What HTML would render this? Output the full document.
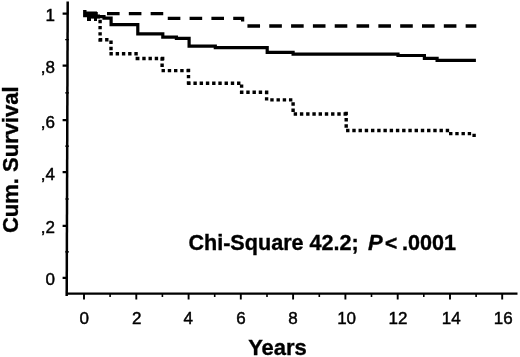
<!DOCTYPE html>
<html><head><meta charset="utf-8">
<style>
html,body{margin:0;padding:0;background:#fff;width:520px;height:357px;overflow:hidden}
svg{display:block;will-change:transform}
text{font-family:"Liberation Sans",sans-serif;fill:#000}
</style></head>
<body>
<svg width="520" height="357" viewBox="0 0 520 357">
<g stroke="#000" fill="none">
<path d="M67.7 1.5L66.7 296" stroke-width="2.5"/>
<path d="M66 293.6H517.5" stroke-width="2.4"/>
<path d="M62.6 13.7H67.5M62.6 65.7H67.5M62.6 120.1H67.5M62.6 172.1H67.5M62.6 225.9H67.5M62.6 277.8H67.5" stroke-width="2.3"/>
<path d="M65.2 39.7H69M65.2 92.9H69M65.2 146.1H69M65.2 199.0H69M65.2 251.9H69" stroke-width="1.2"/>
<path d="M84.0 293.6V299.6M136.3 293.6V299.6M188.6 293.6V299.6M240.8 293.6V299.6M293.1 293.6V299.6M345.4 293.6V299.6M397.7 293.6V299.6M450.0 293.6V299.6M502.2 293.6V299.6" stroke-width="1.9"/>
<path d="M110.1 293.6V297M162.4 293.6V297M214.7 293.6V297M267.0 293.6V297M319.3 293.6V297M371.5 293.6V297M423.8 293.6V297M476.1 293.6V297" stroke-width="1.6"/>
</g>
<g font-size="17" text-anchor="end" stroke="#000" stroke-width="0.45">
<text x="55" y="21.1">1</text>
<text x="55" y="73.1">,8</text>
<text x="55" y="127.5">,6</text>
<text x="55" y="179.5">,4</text>
<text x="55" y="233.3">,2</text>
<text x="55" y="285.2">0</text>
</g>
<g font-size="17" text-anchor="middle" stroke="#000" stroke-width="0.45">
<text x="84.3" y="324.3">0</text>
<text x="136.7" y="324.3">2</text>
<text x="188.2" y="324.3">4</text>
<text x="241.1" y="324.3">6</text>
<text x="292.9" y="324.3">8</text>
<text x="346.6" y="324.3">10</text>
<text x="397.9" y="324.3">12</text>
<text x="451.2" y="324.3">14</text>
<text x="503.2" y="324.3">16</text>
</g>
<text font-size="22" font-weight="bold" stroke="#000" stroke-width="0.35" x="277.5" y="355.4" text-anchor="middle">Years</text>
<text font-size="22" font-weight="bold" stroke="#000" stroke-width="0.35" transform="translate(18.2 159.7) rotate(-90)" text-anchor="middle">Cum. Survival</text>
<g font-size="21.6" font-weight="bold" stroke="#000" stroke-width="0.35">
<text x="188.4" y="249.6">Chi-Square 42.2;</text>
<text x="367.9" y="249.6" font-size="22" font-style="italic">P</text>
<text x="384.9" y="249.6" font-size="20.8" stroke-width="0.5">&lt;</text>
<text x="402" y="249.6">.0001</text>
</g>
<g fill="none" stroke="#000">
<path d="M83.1 9.9 H86.5 V11.6 H97 V14.4 H100 V18.6 H97 V20.9 H94 V18.6 H91 V20.9 H87 V17.2 H83.1Z" fill="#000" stroke="none"/>
<path d="M84 13.7 H164 V18.4 H242.6 V26 H476.3" stroke-width="3.3" stroke-dasharray="12.6 9.22" stroke-dashoffset="-1.18"/>
<path d="M84 13.5 H88 V15.5 H93 V16.6 H104 V18.1 H111.1 V24.6 H137.8 V33.8 H162.8 V37.1 H176.4 V38.3 H189.1 V46.1 H215.3 V47.6 H267.2 V52.4 H293.1 V54.2 H398 V55.5 H424.4 V58.4 H437.1 V60.3 H475.9" stroke-width="3.2"/>
<path d="M98.40 19.74h3.4v3.4h-3.4zM98.40 25.97h3.4v3.4h-3.4zM98.40 32.20h3.4v3.4h-3.4zM98.40 38.43h3.4v3.4h-3.4zM98.87 38.10h3.4v3.4h-3.4zM105.10 38.10h3.4v3.4h-3.4zM109.30 40.57h3.4v3.4h-3.4zM109.30 46.80h3.4v3.4h-3.4zM109.44 52.10h3.4v3.4h-3.4zM115.67 52.10h3.4v3.4h-3.4zM121.90 52.10h3.4v3.4h-3.4zM128.13 52.10h3.4v3.4h-3.4zM134.36 52.10h3.4v3.4h-3.4zM135.60 56.80h3.4v3.4h-3.4zM136.04 56.80h3.4v3.4h-3.4zM142.27 56.80h3.4v3.4h-3.4zM148.50 56.80h3.4v3.4h-3.4zM154.73 56.80h3.4v3.4h-3.4zM160.96 56.80h3.4v3.4h-3.4zM160.40 57.37h3.4v3.4h-3.4zM160.40 63.60h3.4v3.4h-3.4zM161.54 68.90h3.4v3.4h-3.4zM167.77 68.90h3.4v3.4h-3.4zM174.00 68.90h3.4v3.4h-3.4zM180.23 68.90h3.4v3.4h-3.4zM186.46 68.90h3.4v3.4h-3.4zM186.80 68.67h3.4v3.4h-3.4zM186.80 74.90h3.4v3.4h-3.4zM186.80 81.13h3.4v3.4h-3.4zM187.18 81.50h3.4v3.4h-3.4zM193.41 81.50h3.4v3.4h-3.4zM199.64 81.50h3.4v3.4h-3.4zM205.87 81.50h3.4v3.4h-3.4zM212.10 81.50h3.4v3.4h-3.4zM218.33 81.50h3.4v3.4h-3.4zM224.56 81.50h3.4v3.4h-3.4zM230.79 81.50h3.4v3.4h-3.4zM237.02 81.50h3.4v3.4h-3.4zM239.90 84.40h3.4v3.4h-3.4zM239.90 90.63h3.4v3.4h-3.4zM240.04 90.60h3.4v3.4h-3.4zM246.27 90.60h3.4v3.4h-3.4zM252.50 90.60h3.4v3.4h-3.4zM258.73 90.60h3.4v3.4h-3.4zM264.96 90.60h3.4v3.4h-3.4zM264.90 90.97h3.4v3.4h-3.4zM264.90 97.20h3.4v3.4h-3.4zM270.27 98.20h3.4v3.4h-3.4zM276.50 98.20h3.4v3.4h-3.4zM282.73 98.20h3.4v3.4h-3.4zM288.96 98.20h3.4v3.4h-3.4zM291.40 102.27h3.4v3.4h-3.4zM291.40 108.50h3.4v3.4h-3.4zM293.68 112.30h3.4v3.4h-3.4zM299.91 112.30h3.4v3.4h-3.4zM306.14 112.30h3.4v3.4h-3.4zM312.37 112.30h3.4v3.4h-3.4zM318.60 112.30h3.4v3.4h-3.4zM324.83 112.30h3.4v3.4h-3.4zM331.06 112.30h3.4v3.4h-3.4zM337.29 112.30h3.4v3.4h-3.4zM343.52 112.30h3.4v3.4h-3.4zM344.50 111.84h3.4v3.4h-3.4zM344.50 118.07h3.4v3.4h-3.4zM344.50 124.30h3.4v3.4h-3.4zM346.06 128.80h3.4v3.4h-3.4zM352.29 128.80h3.4v3.4h-3.4zM358.52 128.80h3.4v3.4h-3.4zM364.75 128.80h3.4v3.4h-3.4zM370.98 128.80h3.4v3.4h-3.4zM377.21 128.80h3.4v3.4h-3.4zM383.44 128.80h3.4v3.4h-3.4zM389.67 128.80h3.4v3.4h-3.4zM395.90 128.80h3.4v3.4h-3.4zM402.13 128.80h3.4v3.4h-3.4zM408.36 128.80h3.4v3.4h-3.4zM414.59 128.80h3.4v3.4h-3.4zM420.82 128.80h3.4v3.4h-3.4zM427.05 128.80h3.4v3.4h-3.4zM433.28 128.80h3.4v3.4h-3.4zM439.51 128.80h3.4v3.4h-3.4zM445.74 128.80h3.4v3.4h-3.4zM449.04 131.90h3.4v3.4h-3.4zM455.27 131.90h3.4v3.4h-3.4zM461.50 131.90h3.4v3.4h-3.4zM467.73 131.90h3.4v3.4h-3.4zM472.40 133.70h3.4v3.4h-3.4z" fill="#000" stroke="none"/>
</g>
</svg>
</body></html>
